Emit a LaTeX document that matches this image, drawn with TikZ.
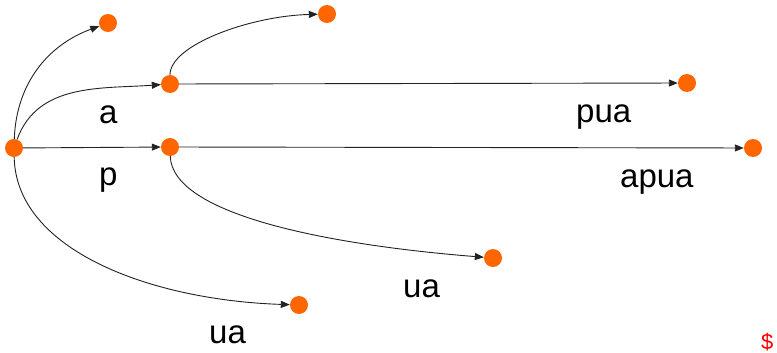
\documentclass[tikz,border=0pt]{standalone}
\usepackage{fontspec}
\setmainfont{Liberation Sans}
\usetikzlibrary{arrows.meta}
\definecolor{dotorange}{HTML}{FF6600}
\definecolor{linegray}{HTML}{222222}
\begin{document}
\begin{tikzpicture}[x=1pt,y=-1pt,
  dot/.style={circle,fill=dotorange,inner sep=0pt,minimum size=18pt},
  edge/.style={draw=linegray,line width=0.9pt,-{Triangle[length=9pt,width=7pt]}},
  lbl/.style={font=\fontsize{33}{40}\selectfont,inner sep=0pt,anchor=base west},
  dollar/.style={font=\fontsize{22}{26}\selectfont,text=red,inner sep=0pt,anchor=base west}]
\path[use as bounding box] (0,0) rectangle (777,353);
% nodes
\node[dot] (root) at (14,148) {};
\node[dot] (d1) at (108,23) {};
\node[dot] (A) at (170,84) {};
\node[dot] (d2) at (327,14) {};
\node[dot] (pua) at (687,83) {};
\node[dot] (P) at (170,147) {};
\node[dot] (apua) at (753,148) {};
\node[dot] (ua1) at (493,258) {};
\node[dot] (ua2) at (299,305) {};
% edges
\draw[edge] (root) to[out=88,in=200] (d1);
\draw[edge] (root) to[out=70,in=184] (A);
\draw[edge] (root) -- (P);
\draw[edge] (root) .. controls +(2,102) and +(-149,-5) .. (ua2);
\draw[edge] (A) .. controls +(0,-39) and +(-77,2) .. (d2);
\draw[edge] (A) -- (pua);
\draw[edge] (P) -- (apua);
\draw[edge] (P) .. controls +(2,68) and +(-163,-13) .. (ua1);
% labels
\node[lbl] (la) at (99,123) {a};
\node[lbl] (lp) at (99,185) {p};
\node[lbl] (lpua) at (576,122) {pua};
\node[lbl] (lapua) at (620,187) {apua};
\node[lbl] (lua1) at (403,297) {ua};
\node[lbl] (lua2) at (209,343) {ua};
\node[dollar] (ldollar) at (761,349) {\$};
\end{tikzpicture}
\end{document}
